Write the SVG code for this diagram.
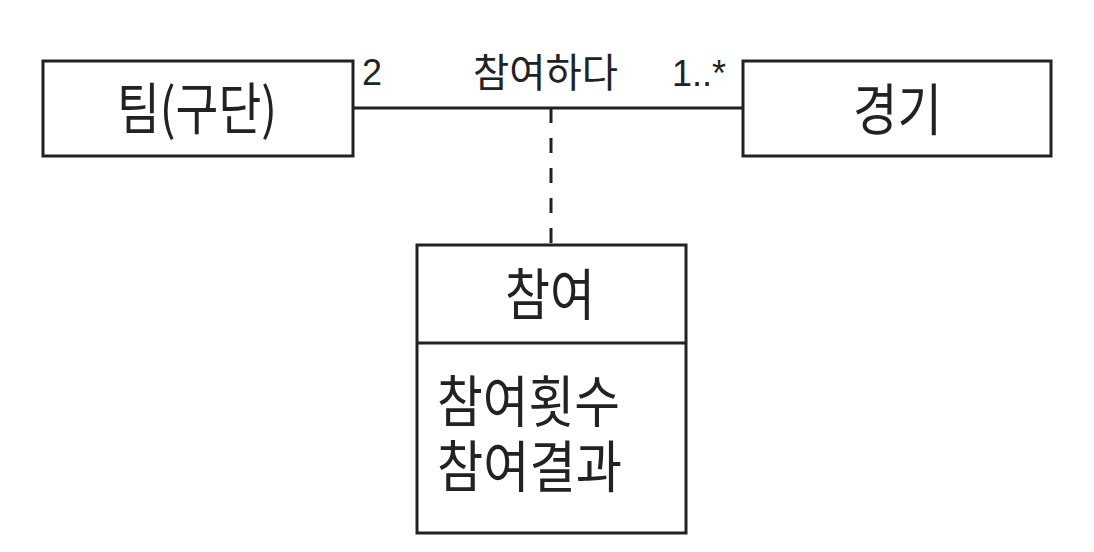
<svg xmlns="http://www.w3.org/2000/svg" width="1094" height="552" viewBox="0 0 1094 552">
<style>
.box{fill:#fff;stroke:#222;stroke-width:3}
.ln{stroke:#222;stroke-width:3;fill:none}
.dash{stroke:#222;stroke-width:3;stroke-dasharray:15 15;fill:none}
.ko{font-family:"Noto Sans CJK KR","Noto Sans",sans-serif;fill:#222;font-size:56px}
.kos{font-family:"Noto Sans CJK KR","Noto Sans",sans-serif;fill:#222;font-size:40px}
.num{font-family:"Liberation Sans",Arial,sans-serif;fill:#222;font-size:36px}
</style>
<rect width="1094" height="552" fill="#fff"/>
<g id="connectors">
<line class="ln" x1="353" y1="108" x2="743" y2="108"/>
<line class="dash" x1="551" y1="108" x2="551" y2="245"/>
<text class="num" x="362" y="85">2</text>
<text class="kos" x="473" y="87" textLength="145" lengthAdjust="spacingAndGlyphs">참여하다</text>
<text class="num" x="672" y="86">1..*</text>
</g>
<g id="team">
<rect class="box" x="43" y="61" width="310" height="95"/>
<text class="ko" x="117" y="129" textLength="160" lengthAdjust="spacingAndGlyphs">팀(구단)</text>
</g>
<g id="game">
<rect class="box" x="743" y="61" width="308" height="95"/>
<text class="ko" x="853" y="130" textLength="89" lengthAdjust="spacingAndGlyphs">경기</text>
</g>
<g id="participation">
<rect class="box" x="417" y="245" width="269" height="288"/>
<line class="ln" x1="417" y1="343" x2="686" y2="343"/>
<text class="ko" x="505" y="315" textLength="90" lengthAdjust="spacingAndGlyphs">참여</text>
<text class="ko" x="437" y="422" textLength="183" lengthAdjust="spacingAndGlyphs">참여횟수</text>
<text class="ko" x="437" y="487" textLength="185" lengthAdjust="spacingAndGlyphs">참여결과</text>
</g>
</svg>
